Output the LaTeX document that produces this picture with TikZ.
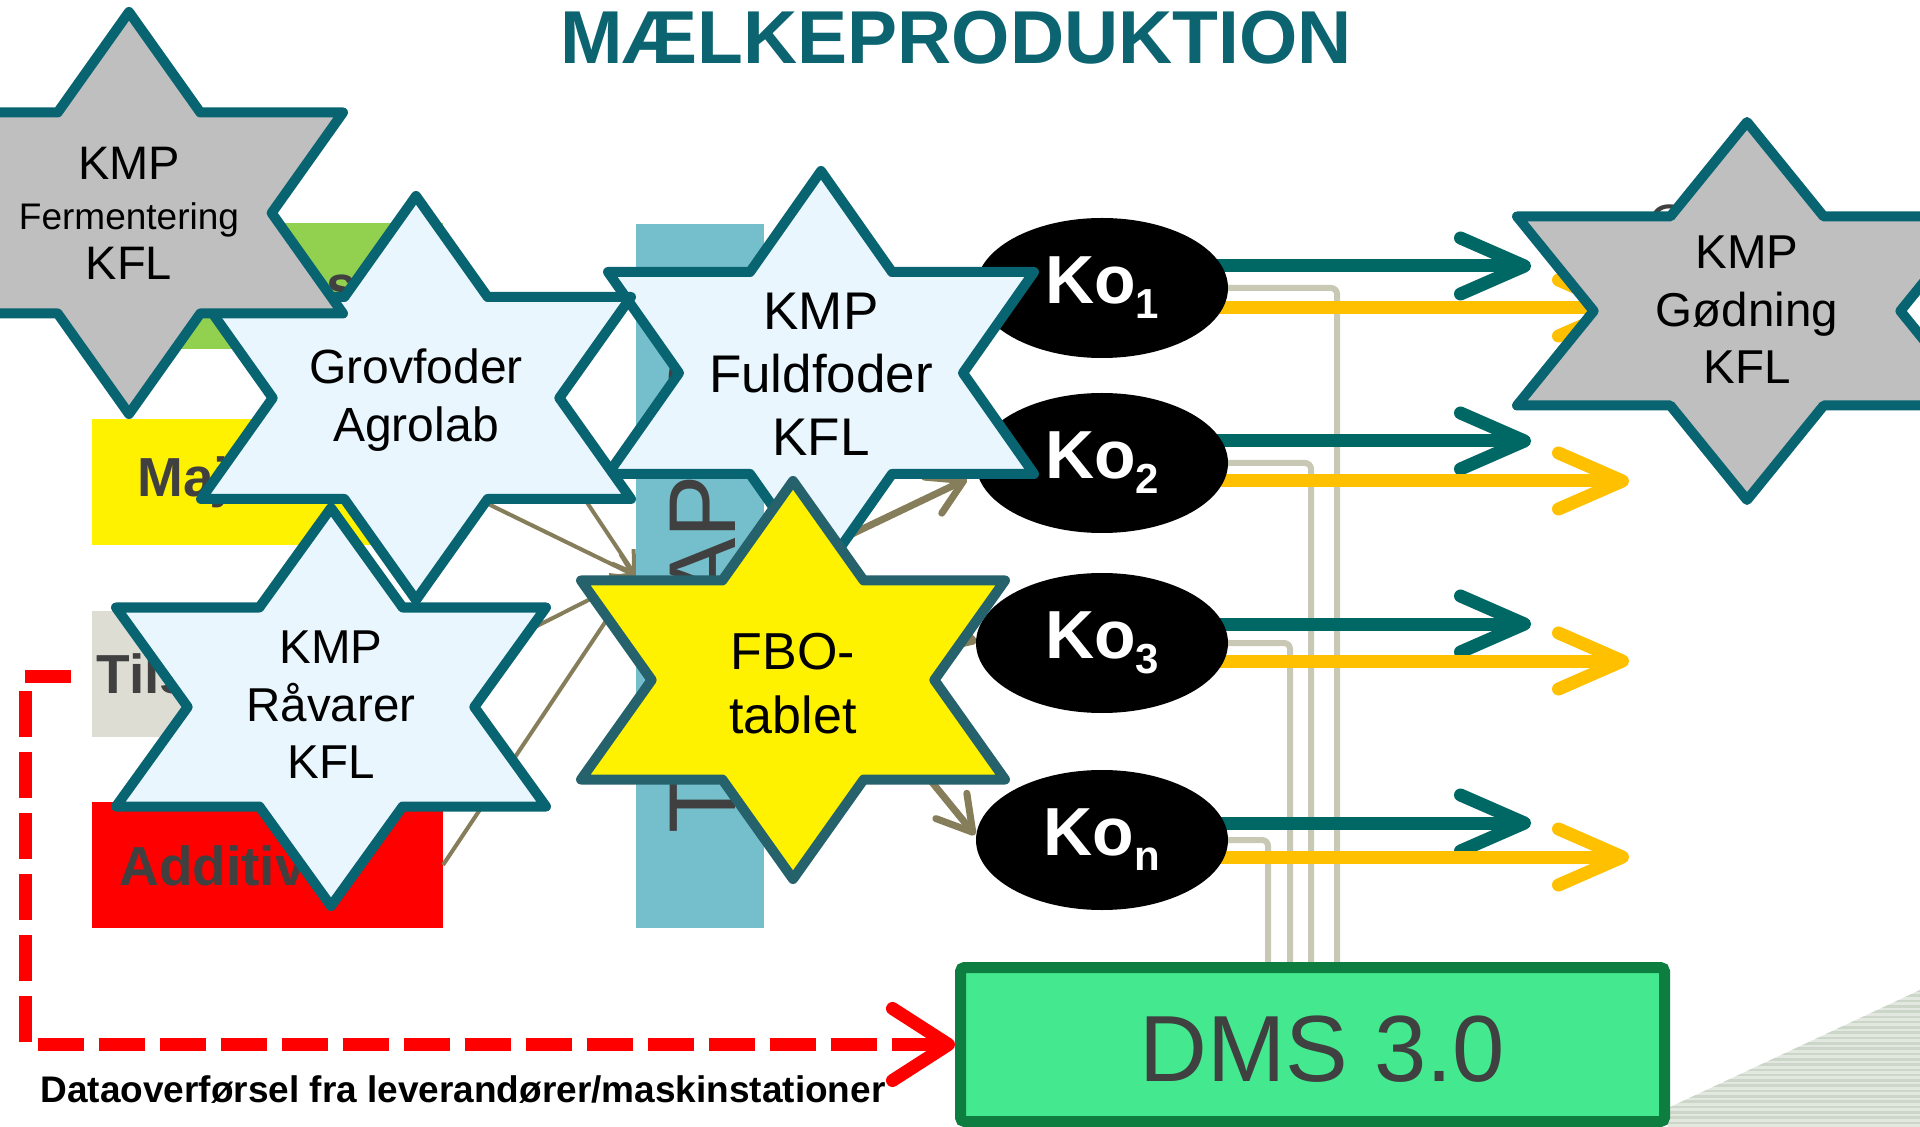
\documentclass[tikz,border=0pt]{standalone}
\usepackage{fontspec}
\setmainfont{Liberation Sans}
\usetikzlibrary{shapes.geometric,arrows.meta,calc}

\definecolor{starline}{RGB}{8,100,112}
\definecolor{fboline}{RGB}{38,98,108}
\definecolor{titleteal}{RGB}{11,100,112}
\definecolor{lightblue}{RGB}{234,246,253}
\definecolor{stargray}{RGB}{191,191,191}
\definecolor{arrowteal}{RGB}{0,104,100}
\definecolor{arrowyellow}{RGB}{255,192,0}
\definecolor{olive}{RGB}{134,126,90}
\definecolor{tmrblue}{RGB}{117,191,204}
\definecolor{textgrey}{RGB}{64,64,64}
\definecolor{boxgreen}{RGB}{146,208,80}
\definecolor{boxgrey}{RGB}{221,221,211}
\definecolor{dmsfill}{RGB}{68,233,143}
\definecolor{dmsline}{RGB}{14,125,64}
\definecolor{linkgrey}{RGB}{200,200,180}
\definecolor{stripelight}{RGB}{226,232,223}
\definecolor{stripedark}{RGB}{203,214,200}

\pgfdeclarelayer{back}
\pgfdeclarelayer{mid}
\pgfdeclarelayer{front}
\pgfsetlayers{back,mid,main,front}

% six-pointed star: centre x, centre y, half width, half height, style
\newcommand{\hexstar}[5]{%
  \path[#5] (#1,{#2-#4}) -- ({#1+#3/3},{#2-#4/2}) -- ({#1+#3},{#2-#4/2})
    -- ({#1+2*#3/3},#2) -- ({#1+#3},{#2+#4/2}) -- ({#1+#3/3},{#2+#4/2})
    -- (#1,{#2+#4}) -- ({#1-#3/3},{#2+#4/2}) -- ({#1-#3},{#2+#4/2})
    -- ({#1-2*#3/3},#2) -- ({#1-#3},{#2-#4/2}) -- ({#1-#3/3},{#2-#4/2}) -- cycle;}
\newcommand{\kosub}[1]{\raisebox{-7.5pt}{\fontsize{21}{23}\selectfont #1}}

\begin{document}
\begin{tikzpicture}[x=0.5pt,y=-0.5pt,
  feedbox/.style={rectangle,minimum width=175.5pt,minimum height=63pt,inner sep=0pt,outer sep=0pt},
  boxtext/.style={font=\bfseries\fontsize{27.5}{30}\selectfont,text=textgrey,inner sep=0pt},
  kocow/.style={ellipse,fill=black,minimum width=126pt,minimum height=70pt,inner sep=0pt,text=white,font=\bfseries\fontsize{34}{36}\selectfont},
  milkarrow/.style={draw=arrowteal,line width=6.5pt,-{Straight Barb[length=32pt,width=28pt,round]}},
  manurearrow/.style={draw=arrowyellow,line width=6.5pt,-{Straight Barb[length=32pt,width=28pt,round]}},
  feedarrow/.style={draw=olive,line width=2pt,-{Straight Barb[length=10pt,width=13pt]}},
  tmrarrow/.style={draw=olive,line width=3.5pt,-{Straight Barb[length=17pt,width=20pt,round]}},
  linkline/.style={draw=linkgrey,line width=3pt,rounded corners=3pt},
  reddash/.style={draw=red,line width=6.5pt,dash pattern=on 23pt off 7.5pt,-{Straight Barb[length=28pt,width=36pt,round]}},
  starbody/.style={line width=5pt,line join=round,draw=starline},
  startext/.style={align=center,text=black,inner sep=0pt},
]
\useasboundingbox (0,0) rectangle (1920,1127);

\begin{pgfonlayer}{back}
\fill[white] (0,0) rectangle (1920,1127);
% striped corner
\begin{scope}
  \clip (1668,1108) -- (1920,990) -- (1920,1127) -- (1668,1127) -- cycle;
  \fill[stripelight] (1660,980) rectangle (1920,1127);
  \foreach \yy in {985,990.3,...,1127} \draw[stripedark,line width=1.3pt] (1660,\yy) -- (1920,\yy);
\end{scope}
% feed boxes
\node[feedbox,fill=boxgreen] (grass) at (267.5,286.5) {};
\node[feedbox,fill=yellow] (maize) at (267.5,482) {};
\node[feedbox,fill=boxgrey] (suppl) at (267.5,673.5) {};
\node[feedbox,fill=red] (addit) at (267.5,865) {};
\node[boxtext,anchor=east] (tgrass) at (357,286) {Græs};
\node[boxtext,anchor=west] (tmaize) at (137,482) {Majs};
\node[boxtext,anchor=west] (tsuppl) at (96,674) {Tils};
\node[boxtext,anchor=west] (taddit) at (119,866) {Additiver};
% TMR bar
\node[fill=tmrblue,minimum width=64pt,minimum height=352pt,inner sep=0pt,outer sep=0pt] (tmr) at (700,576) {};
\node[rotate=90,anchor=base west,inner sep=0pt,font=\fontsize{47.5}{50}\selectfont,text=textgrey] (tmrtext) at (735,834) {TMR APPS};
\end{pgfonlayer}

% cows
\node[kocow] (ko1) at (1102,288) {Ko\kosub{1}};
\node[kocow] (ko2) at (1102,463) {Ko\kosub{2}};
\node[kocow] (ko3) at (1102,643) {Ko\kosub{3}};
\node[kocow] (kon) at (1102,840) {Ko\kosub{n}};

% DMS box
\node[draw=dmsline,fill=dmsfill,line width=5.5pt,minimum width=352pt,minimum height=77pt,inner sep=0pt,rounded corners=2pt] (dms) at (1312.5,1044.5) {};
\node[font=\fontsize{47}{50}\selectfont,text=textgrey,anchor=base,inner sep=0pt] (dmstext) at (1322,1081) {DMS 3.0};

% hidden label fragment behind the manure star
\node[anchor=north west,inner sep=0pt,font=\fontsize{27}{30}\selectfont,text=textgrey] (gfrag) at (1648,204) {G};

% free ends of connectors
\coordinate (k1) at (978,302);
\coordinate (k2) at (967,479);
\coordinate (k3) at (977,642);
\coordinate (k4) at (975,835);
\coordinate (g1) at (1337,968);
\coordinate (g2) at (1311,968);
\coordinate (g3) at (1290,968);
\coordinate (g4) at (1268,968);
\coordinate (mt1) at (1531,266);
\coordinate (mt2) at (1531,441);
\coordinate (mt3) at (1531,624);
\coordinate (mt4) at (1531,823);
\coordinate (my1) at (1629,308);
\coordinate (my2) at (1629,481);
\coordinate (my3) at (1629,661);
\coordinate (my4) at (1629,857);

\begin{pgfonlayer}{mid}
% feed arrows into the bar
\draw[feedarrow] (grass.east) -- (tmr.west);
\draw[feedarrow] (maize.east) -- (tmr.west);
\draw[feedarrow] (suppl.east) -- (tmr.west);
\draw[feedarrow] (addit.east) -- (tmr.west);
% arrows from the bar to the cows
\draw[tmrarrow] (tmr.east) -- (k1);
\draw[tmrarrow] (tmr.east) -- (k2);
\draw[tmrarrow] (tmr.east) -- (k3);
\draw[tmrarrow] (tmr.east) -- (k4);
% grey links to DMS
\draw[linkline] (ko1.center) -| (g1);
\draw[linkline] (ko2.center) -| (g2);
\draw[linkline] (ko3.center) -| (g3);
\draw[linkline] (kon.center) -| (g4);
% milk and manure arrows
\draw[milkarrow] (ko1.center |- mt1) -- (mt1);
\draw[manurearrow] (ko1.center |- my1) -- (my1);
\draw[milkarrow] (ko2.center |- mt2) -- (mt2);
\draw[manurearrow] (ko2.center |- my2) -- (my2);
\draw[milkarrow] (ko3.center |- mt3) -- (mt3);
\draw[manurearrow] (ko3.center |- my3) -- (my3);
\draw[milkarrow] (kon.center |- mt4) -- (mt4);
\draw[manurearrow] (kon.center |- my4) -- (my4);
\end{pgfonlayer}

\begin{pgfonlayer}{front}
% stars
\hexstar{331}{707}{215}{199}{starbody,fill=lightblue}
\node[startext,font=\fontsize{23.75}{28.75}\selectfont] (ravarer) at (331,705) {KMP\\Råvarer\\KFL};

\hexstar{821}{373}{213}{202}{starbody,fill=lightblue}
\node[startext,font=\fontsize{26.5}{31.5}\selectfont] (fuldfoder) at (821,374) {KMP\\Fuldfoder\\KFL};

\hexstar{416}{398}{215}{202}{starbody,fill=lightblue}
\node[startext,font=\fontsize{24}{28.75}\selectfont] (grovfoder) at (416,400) {Grovfoder\\Agrolab};

\hexstar{129}{213}{214}{201}{starbody,fill=stargray}
\node[startext,font=\fontsize{23.5}{25}\selectfont] (ferm) at (129,213) {KMP\\{\fontsize{18.5}{25}\selectfont Fermentering}\\KFL};

\hexstar{793}{680}{212}{199}{starbody,draw=fboline,fill=yellow}
\node[startext,font=\fontsize{26}{32}\selectfont] (fbo) at (793,684) {FBO-\\tablet};

\hexstar{1747}{311}{230}{189}{starbody,fill=stargray}
\node[startext,font=\fontsize{23.75}{28.75}\selectfont] (godning) at (1747,310) {KMP\\Gødning\\KFL};

% data transfer arrow
\coordinate (rstart) at (71,676);
\coordinate (rcorner) at (25,676);
\draw[reddash] (rstart) -- (rcorner) |- (dms.west);
\node[anchor=base west,inner sep=0pt,font=\bfseries\fontsize{18.5}{20}\selectfont] (caption) at (40,1102) {Dataoverførsel fra leverandører/maskinstationer};

% title
\node[anchor=base,inner sep=0pt,font=\bfseries\fontsize{37.5}{40}\selectfont,text=titleteal] (title) at (956,64) {MÆLKEPRODUKTION};
\end{pgfonlayer}
\end{tikzpicture}
\end{document}
